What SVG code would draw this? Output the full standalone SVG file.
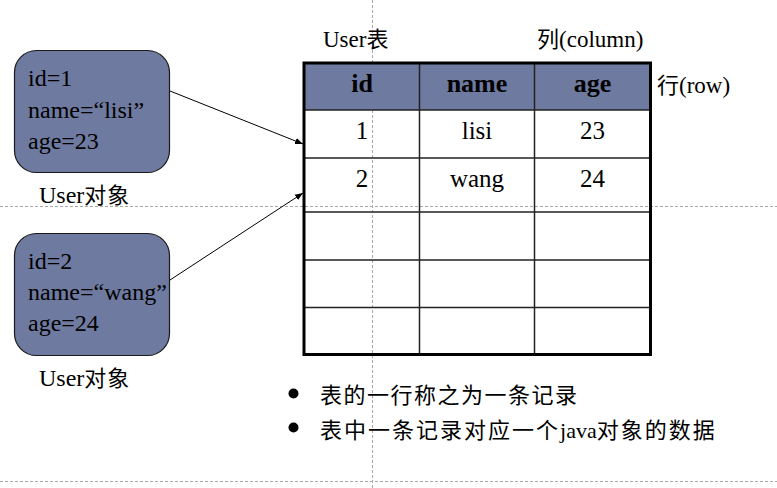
<svg xmlns="http://www.w3.org/2000/svg" width="777" height="488" viewBox="0 0 777 488">
<style>
.guide{stroke:#a8a8a8;stroke-width:1;stroke-dasharray:3,2;fill:none}
.obj{fill:#6f7aa0;stroke:#1a1a1a;stroke-width:1.2}
.t{font-family:'Liberation Serif','Times New Roman','DejaVu Serif',serif;fill:#000}
.c{font-family:'Noto Sans CJK SC','Noto Sans CJK JP',sans-serif}
.otxt{font-size:24px}
.cell{font-size:25px;text-anchor:middle}
.head{font-size:26px;font-weight:bold;text-anchor:middle}
.lab{font-size:23px}
.note{font-size:22px}
.inner{stroke:#222;stroke-width:1.5;fill:none}
.outer{stroke:#000;stroke-width:3;fill:none}
.conn{stroke:#000;stroke-width:1;fill:none}
</style>
<defs>
<marker id="arr" viewBox="0 0 10 10" refX="10" refY="5" markerWidth="8" markerHeight="8" markerUnits="userSpaceOnUse" orient="auto">
<path d="M0,1 L10,5 L0,9 z" fill="#000"/>
</marker>
</defs>
<rect width="777" height="488" fill="#fff"/>
<g id="guides">
<line class="guide" x1="372.5" y1="0" x2="372.5" y2="488"/>
<line class="guide" x1="0" y1="206.5" x2="777" y2="206.5"/>
<line class="guide" x1="0" y1="481.5" x2="777" y2="481.5"/>
</g>
<g id="table">
<rect x="304" y="63" width="346.5" height="47" fill="#6f7aa0"/>
<g class="inner">
<line x1="304" y1="110" x2="650.5" y2="110"/>
<line x1="304" y1="158" x2="650.5" y2="158"/>
<line x1="304" y1="212" x2="650.5" y2="212"/>
<line x1="304" y1="260" x2="650.5" y2="260"/>
<line x1="304" y1="307.5" x2="650.5" y2="307.5"/>
<line x1="419.5" y1="63" x2="419.5" y2="354.5"/>
<line x1="534.5" y1="63" x2="534.5" y2="354.5"/>
</g>
<rect class="outer" x="304" y="63" width="346.5" height="291.5"/>
<text class="t head" x="362" y="92">id</text>
<text class="t head" x="477" y="92">name</text>
<text class="t head" x="592.5" y="92">age</text>
<text class="t cell" x="362" y="139">1</text>
<text class="t cell" x="477" y="139">lisi</text>
<text class="t cell" x="592.5" y="139">23</text>
<text class="t cell" x="362" y="187">2</text>
<text class="t cell" x="477" y="187">wang</text>
<text class="t cell" x="592.5" y="187">24</text>
</g>
<g id="labels">
<text class="t lab" x="323" y="47">User<tspan class="c" font-size="22">表</tspan></text>
<text class="t lab" x="537" y="47"><tspan class="c" font-size="22">列</tspan>(column)</text>
<text class="t lab" x="657" y="93"><tspan class="c" font-size="22">行</tspan>(row)</text>
</g>
<g id="user1">
<rect class="obj" x="14.5" y="50.5" width="155" height="122" rx="22" ry="22"/>
<text class="t otxt" x="28" y="86">id=1</text>
<text class="t otxt" x="28" y="118">name=“lisi”</text>
<text class="t otxt" x="28" y="149">age=23</text>
<text class="t otxt" x="39" y="203">User<tspan class="c" font-size="22" letter-spacing="1">对象</tspan></text>
</g>
<g id="user2">
<rect class="obj" x="14.5" y="233.5" width="155" height="122" rx="22" ry="22"/>
<text class="t otxt" x="28" y="269">id=2</text>
<text class="t otxt" x="28" y="300">name=“wang”</text>
<text class="t otxt" x="28" y="331">age=24</text>
<text class="t otxt" x="39" y="386">User<tspan class="c" font-size="22" letter-spacing="1">对象</tspan></text>
</g>
<g id="connectors">
<line class="conn" x1="170" y1="91" x2="303" y2="144" marker-end="url(#arr)"/>
<line class="conn" x1="170" y1="280" x2="303" y2="193" marker-end="url(#arr)"/>
</g>
<g id="notes">
<circle cx="293.5" cy="393.5" r="5"/>
<circle cx="293.5" cy="427.5" r="5"/>
<text class="t note" x="320" y="403"><tspan class="c" letter-spacing="1.5">表的一行称之为一条记录</tspan></text>
<text class="t note" x="320" y="438"><tspan class="c" letter-spacing="2">表中一条记录对应一个</tspan>java<tspan class="c" letter-spacing="2">对象的数据</tspan></text>
</g>
</svg>
